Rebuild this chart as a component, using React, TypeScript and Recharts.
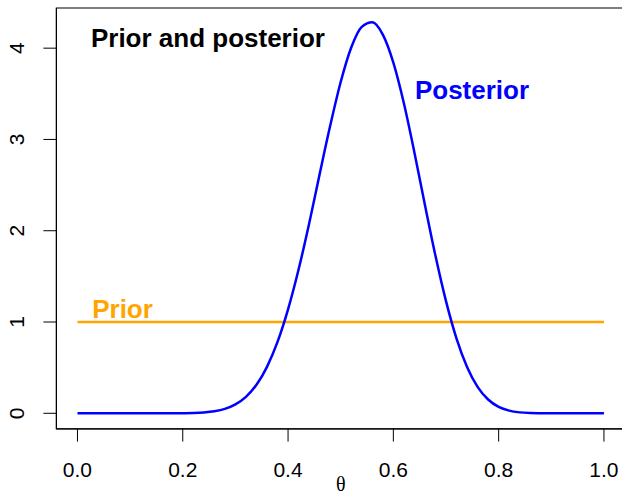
import React from 'react';
import { LineChart, Line, XAxis, YAxis, ReferenceArea, ReferenceDot, Label } from 'recharts';

// posterior density, theta step 0.02
const thetaValues = [
  0, 0.02, 0.04, 0.06, 0.08, 0.1, 0.12, 0.14, 0.16, 0.18,
  0.2, 0.22, 0.24, 0.26, 0.28, 0.3, 0.32, 0.34, 0.36, 0.38,
  0.4, 0.42, 0.44, 0.46, 0.48, 0.5, 0.52, 0.54, 0.56, 0.58,
  0.6, 0.62, 0.64, 0.66, 0.68, 0.7, 0.72, 0.74, 0.76, 0.78,
  0.8, 0.82, 0.84, 0.86, 0.88, 0.9, 0.92, 0.94, 0.96, 0.98, 1,
];
const posteriorValues = [
  0, 0, 0, 0, 0, 0, 0, 0, 0, 0,
  0.001, 0.003, 0.009, 0.022, 0.048, 0.097, 0.18, 0.312, 0.509, 0.782,
  1.139, 1.575, 2.077, 2.62, 3.149, 3.629, 4.007, 4.233, 4.284, 4.149,
  3.842, 3.397, 2.858, 2.282, 1.726, 1.229, 0.819, 0.508, 0.29, 0.151,
  0.07, 0.029, 0.01, 0.003, 0.001, 0, 0, 0, 0, 0, 0,
];
const priorTheta = [0, 1];
const priorValues = [1, 1];

const xTicks = [0, 0.2, 0.4, 0.6, 0.8, 1];
const yTicks = [0, 1, 2, 3, 4];

const FONT = '"Liberation Sans", Arial, Helvetica, sans-serif';
const X_DOMAIN: [number, number] = [-0.04, 1.04];
const Y_DOMAIN: [number, number] = [-0.171, 4.44];

const posteriorData = thetaValues.map((theta, i) => ({ theta, density: posteriorValues[i] }));
const priorData = priorTheta.map((theta, i) => ({ theta, density: priorValues[i] }));

const XTick = ({ x, y, payload }: any) => (
  <text x={x} y={y + 15} textAnchor="middle" fontSize={21} fontFamily={FONT} fill="#000">
    {payload.value.toFixed(1)}
  </text>
);

const YTick = ({ x, y, payload }: any) => (
  <text
    x={x}
    y={y}
    transform={`rotate(-90, ${x}, ${y})`}
    textAnchor="middle"
    fontSize={21}
    fontFamily={FONT}
    fill="#000"
  >
    {payload.value}
  </text>
);

const note = (text: string, color: string) => (props: any) => (
  <text x={props.cx} y={props.cy} fill={color} fontSize={26} fontWeight="bold" fontFamily={FONT}>
    {text}
  </text>
);

const ThetaLabel = ({ viewBox }: any) => (
  <text
    x={viewBox.x + viewBox.width / 2}
    y={viewBox.y + 62}
    textAnchor="middle"
    fontSize={20}
    fontFamily='"Liberation Serif", "DejaVu Serif", serif'
    fill="#000"
  >
    θ
  </text>
);

export default function App() {
  return (
    <div style={{ position: 'absolute', left: 0, top: 0, width: 622, height: 495, overflow: 'hidden', background: '#fff' }}>
      <LineChart width={625} height={495} margin={{ top: 8, right: 0, left: 0.4, bottom: 26.1 }}>
        <XAxis
          type="number"
          dataKey="theta"
          domain={X_DOMAIN}
          ticks={xTicks}
          allowDataOverflow
          height={40}
          tickSize={12.7}
          tickMargin={20.3}
          axisLine={{ stroke: '#000' }}
          tickLine={{ stroke: '#000' }}
          tick={<XTick />}
        >
          <Label content={<ThetaLabel />} />
        </XAxis>
        <YAxis
          type="number"
          dataKey="density"
          domain={Y_DOMAIN}
          ticks={yTicks}
          allowDataOverflow
          width={56}
          tickSize={13}
          tickMargin={19.4}
          axisLine={{ stroke: '#000' }}
          tickLine={{ stroke: '#000' }}
          tick={<YTick />}
        />
        <ReferenceArea
          x1={X_DOMAIN[0]}
          x2={X_DOMAIN[1]}
          y1={Y_DOMAIN[0]}
          y2={Y_DOMAIN[1]}
          fill="none"
          fillOpacity={0}
          stroke="#000"
          strokeWidth={1.2}
        />
        <Line
          data={priorData}
          dataKey="density"
          type="linear"
          stroke="#FFA500"
          strokeWidth={2.5}
          dot={false}
          activeDot={false}
          isAnimationActive={false}
        />
        <Line
          data={posteriorData}
          dataKey="density"
          type="monotone"
          stroke="#0000FF"
          strokeWidth={2.5}
          dot={false}
          activeDot={false}
          isAnimationActive={false}
        />
        <ReferenceDot x={0.0256} y={4.016} r={1} shape={note('Prior and posterior', '#000')} />
        <ReferenceDot x={0.641} y={3.44} r={1} shape={note('Posterior', '#0000FF')} />
        <ReferenceDot x={0.028} y={1.04} r={1} shape={note('Prior', '#FFA500')} />
      </LineChart>
    </div>
  );
}
